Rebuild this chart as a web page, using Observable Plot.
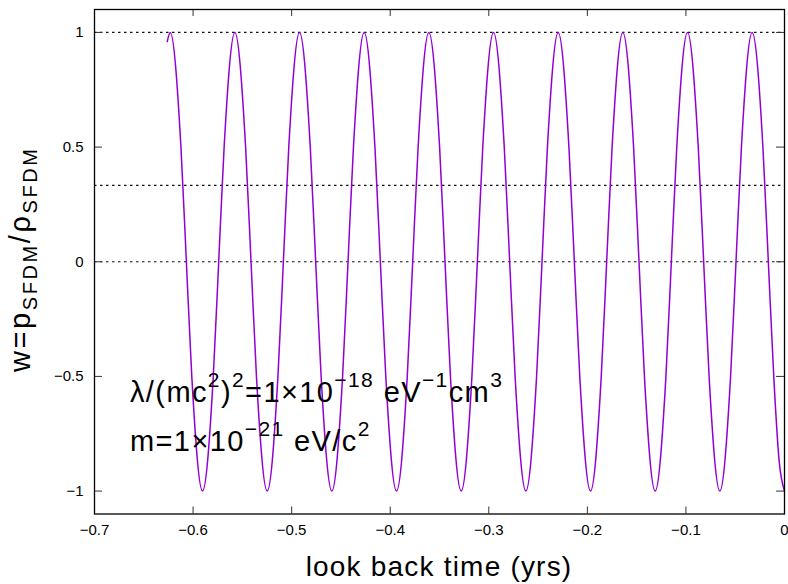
<!DOCTYPE html>
<html>
<head>
<meta charset="utf-8">
<script src="https://cdn.jsdelivr.net/npm/d3@7"></script>
<script src="https://cdn.jsdelivr.net/npm/@observablehq/plot@0.6"></script>
<style>
  html, body { margin: 0; padding: 0; background: white; }
  svg text { white-space: pre; }
</style>
</head>
<body>
<div id="chart"></div>
<script>
// ---- data ----
const lookback = [
  -0.6262, -0.6232, -0.6123, -0.6068, -0.6013, -0.5904,
  -0.5795, -0.5740, -0.5685, -0.5576,
  -0.5467, -0.5412, -0.5357, -0.5248,
  -0.5139, -0.5084, -0.5029, -0.4920,
  -0.4811, -0.4756, -0.4701, -0.4592,
  -0.4483, -0.4428, -0.4373, -0.4264,
  -0.4155, -0.4100, -0.4045, -0.3936,
  -0.3827, -0.3772, -0.3717, -0.3608,
  -0.3499, -0.3444, -0.3389, -0.3280,
  -0.3171, -0.3116, -0.3061, -0.2952,
  -0.2843, -0.2788, -0.2733, -0.2624,
  -0.2515, -0.2460, -0.2405, -0.2296,
  -0.2187, -0.2132, -0.2077, -0.1968,
  -0.1859, -0.1804, -0.1749, -0.1640,
  -0.1531, -0.1476, -0.1421, -0.1312,
  -0.1203, -0.1148, -0.1093, -0.0984,
  -0.0875, -0.0820, -0.0765, -0.0656,
  -0.0547, -0.0492, -0.0437, -0.0328,
  -0.0219, -0.0164, -0.0109, -0.0055, 0.0000
];
const wValues = [
  0.96, 1, 0.5, 0, -0.5, -1,
  -0.5, 0, 0.5, 1,
  0.5, 0, -0.5, -1,
  -0.5, 0, 0.5, 1,
  0.5, 0, -0.5, -1,
  -0.5, 0, 0.5, 1,
  0.5, 0, -0.5, -1,
  -0.5, 0, 0.5, 1,
  0.5, 0, -0.5, -1,
  -0.5, 0, 0.5, 1,
  0.5, 0, -0.5, -1,
  -0.5, 0, 0.5, 1,
  0.5, 0, -0.5, -1,
  -0.5, 0, 0.5, 1,
  0.5, 0, -0.5, -1,
  -0.5, 0, 0.5, 1,
  0.5, 0, -0.5, -1,
  -0.5, 0, 0.5, 1,
  0.5, 0, -0.5, -0.866, -1
];
const xTicks = [-0.7, -0.6, -0.5, -0.4, -0.3, -0.2, -0.1, 0];
const yTicks = [-1, -0.5, 0, 0.5, 1];
const gridLevels = [1, 0.3333, 0];
const xDomain = [-0.7, 0];
const yDomain = [-1.1, 1.1];
const xLabelText = "look back time (yrs)";
const yLabelParts = [["w=p", 0], ["SFDM", -1], ["/ρ", 0], ["SFDM", -1]];
const note1Parts = [["λ/(mc", 0], ["2", 1], [")", 0], ["2", 1], ["=1×10", 0], ["−18", 1], [" eV", 0], ["−1", 1], ["cm", 0], ["3", 1]];
const note2Parts = [["m=1×10", 0], ["−21", 1], [" eV/c", 0], ["2", 1]];
const noteX = -0.6635;
const noteY = [-0.612, -0.826];

// ---- layout ----
const W = 788, H = 584, mt = 9, mb = 70.5, ml = 94, mr = 4;
const plotH = H - mt - mb, plotW = W - ml - mr;
const FONT = "'Liberation Sans', Arial, sans-serif";
const fmt = d3.format("~g");
const series = lookback.map((t, i) => ({t, w: wValues[i]}));

const chart = Plot.plot({
  width: W, height: H,
  marginTop: mt, marginBottom: mb, marginLeft: ml, marginRight: mr,
  x: {domain: xDomain},
  y: {domain: yDomain},
  style: {fontFamily: FONT, fontSize: "15px", background: "white", color: "black", overflow: "hidden"},
  marks: [
    Plot.ruleY(gridLevels, {y: d => d, stroke: "#111", strokeDasharray: "2.5,3.5", strokeWidth: 1.2}),
    Plot.line(series, {x: "t", y: "w", stroke: "#9400D3", strokeWidth: 1.5, curve: "monotone-x"}),
    Plot.tickX(xTicks, {x: d => d, insetTop: plotH - 7, stroke: "#333"}),
    Plot.tickX(xTicks, {x: d => d, insetBottom: plotH - 7, stroke: "#333"}),
    Plot.tickY(yTicks, {y: d => d, insetRight: plotW - 8, stroke: "#333"}),
    Plot.tickY(yTicks, {y: d => d, insetLeft: plotW - 8, stroke: "#333"}),
    Plot.axisX({ticks: xTicks, tickSize: 0, tickPadding: 10, tickFormat: fmt, label: null, fontSize: 15, fontFamily: FONT}),
    Plot.axisY({ticks: yTicks, tickSize: 0, tickPadding: 11, tickFormat: fmt, label: null, fontSize: 15, fontFamily: FONT}),
    Plot.frame({stroke: "black", strokeWidth: 1.3})
  ]
});
document.getElementById("chart").appendChild(chart);

// ---- rich text helpers (sub/superscripts) ----
function rich(textSel, parts, size, small, shiftUp, shiftDown) {
  let cur = 0;
  parts.forEach(([s, mode]) => {
    const target = mode === 1 ? -shiftUp : mode === -1 ? shiftDown : 0;
    const ts = textSel.append("tspan").text(s)
      .attr("font-size", mode === 0 ? size : small);
    if (target !== cur) ts.attr("dy", target - cur);
    cur = target;
  });
}

const svg = d3.select(chart);
const sx = chart.scale("x"), sy = chart.scale("y");

// annotations
[note1Parts, note2Parts].forEach((parts, i) => {
  const t = svg.append("text")
    .attr("x", sx.apply(noteX)).attr("y", sy.apply(noteY[i]))
    .attr("text-anchor", "start")
    .attr("fill", "black")
    .attr("font-family", FONT)
    .attr("letter-spacing", 1.4);
  rich(t, parts, 29, 21, 15, 0);
});

// x label
svg.append("text")
  .attr("x", ml + plotW / 2).attr("y", 576)
  .attr("text-anchor", "middle")
  .attr("font-family", FONT)
  .attr("font-size", 28)
  .attr("letter-spacing", 1.2)
  .attr("fill", "black")
  .text(xLabelText);

// y label
const yl = svg.append("text")
  .attr("transform", `translate(30,${mt + plotH / 2 - 2}) rotate(-90)`)
  .attr("text-anchor", "middle")
  .attr("font-family", FONT)
  .attr("fill", "black")
  .attr("letter-spacing", 2.6);
rich(yl, yLabelParts, 29, 20, 0, 7);
</script>
</body>
</html>
